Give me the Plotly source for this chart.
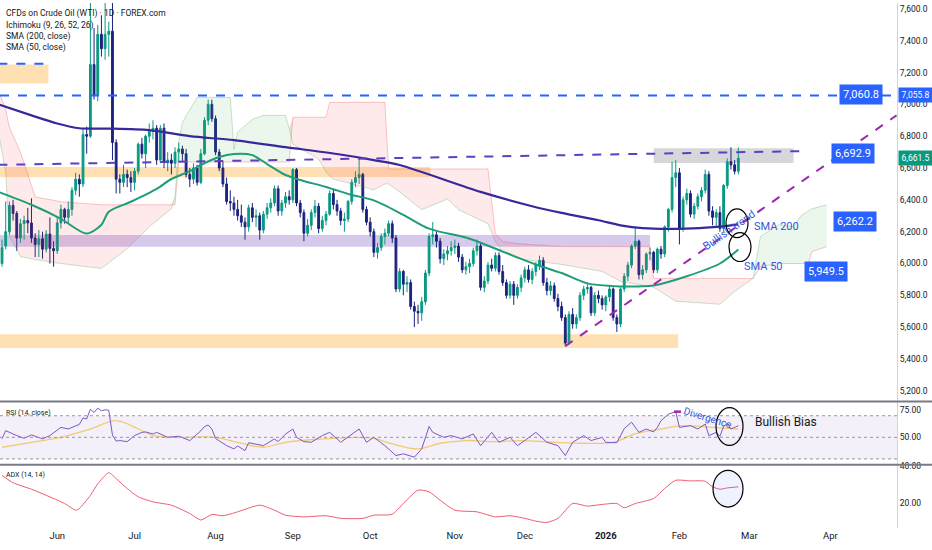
import plotly.graph_objects as go
from plotly.subplots import make_subplots
import pandas as pd

# days without a daily bar on this CFD
holidays = ["2025-05-26", "2025-07-04", "2025-09-01", "2025-11-27",
            "2025-12-25", "2026-01-01", "2026-01-19", "2026-02-16"]

# daily candles, 2025-05-09 .. 2026-02-25
opens = [6000, 6110, 6200, 6365, 6315, 6160, 6250, 6270, 6255, 6160, 6120, 6155, 6090, 6185, 6095,
         6080, 6255, 6340, 6290, 6340, 6460, 6530, 6500, 6810, 6800, 7250, 7060, 7440, 7350, 7440, 7460, 6760, 6530, 6510, 6560, 6540,
         6510, 6580, 6750, 6690, 6800, 6830, 6850, 6650, 6850, 6640, 6650, 6630, 6700, 6720, 6690, 6560, 6530, 6600, 6510, 6690, 6900, 7000,
         6910, 6700, 6600, 6500, 6390, 6380, 6340, 6300, 6260, 6230, 6350, 6290, 6300, 6210, 6310, 6350, 6380, 6470, 6330, 6380, 6420,
         6400, 6590, 6380, 6320, 6190, 6240, 6320, 6360, 6220, 6270, 6310, 6440, 6370, 6330, 6270, 6280, 6390, 6510, 6540, 6560, 6340,
         6260, 6200, 6070, 6100, 6170, 6190, 6250, 6160, 5840, 5950, 5870, 5880, 5730, 5700, 5690, 5760, 5940, 6170, 6180, 6140, 6030, 6060, 6080,
         6100, 6110, 6040, 5960, 5980, 6000, 6080, 6110, 5850, 5890, 5990, 5970, 6050, 5950, 5880, 5800, 5870, 5800, 5850,
         5910, 5960, 5900, 5950, 5990, 6020, 5880, 5830, 5860, 5780, 5730, 5660, 5500, 5680, 5620, 5660, 5800, 5840, 5850, 5690, 5800, 5780,
         5740, 5790, 5840, 5660, 5620, 5840, 5920, 5990, 6110, 6140, 5930, 5960, 6060, 6070, 5960, 6090, 6060, 6230, 6340, 6540,
         6570, 6220, 6400, 6440, 6310, 6360, 6420, 6460, 6560, 6330, 6290, 6320, 6220, 6490, 6640, 6620, 6580]
highs = [6150, 6390, 6390, 6400, 6330, 6280, 6300, 6350, 6410, 6190, 6210, 6200, 6210, 6290, 6140,
         6290, 6370, 6350, 6390, 6480, 6570, 6560, 6850, 6860, 7760, 7480, 7500, 7560, 7700, 7520, 7800, 6780, 6560, 6620, 6590, 6580,
         6600, 6760, 6790, 6810, 6880, 6900, 6870, 6870, 6880, 6700, 6690, 6730, 6760, 6740, 6720, 6600, 6630, 6620, 6720, 6920, 7030, 7030,
         6930, 6720, 6640, 6540, 6460, 6420, 6400, 6370, 6290, 6370, 6380, 6340, 6320, 6330, 6380, 6410, 6490, 6490, 6400, 6450, 6460,
         6600, 6600, 6400, 6340, 6280, 6340, 6400, 6380, 6300, 6330, 6460, 6470, 6400, 6350, 6320, 6400, 6530, 6580, 6660, 6570, 6360,
         6290, 6220, 6130, 6190, 6220, 6270, 6270, 6180, 5970, 5960, 5920, 5900, 5760, 5740, 5790, 5960, 6190, 6260, 6200, 6160, 6090, 6110, 6140,
         6150, 6130, 6060, 6010, 6030, 6100, 6150, 6130, 5920, 6010, 6030, 6070, 6070, 5990, 5900, 5890, 5890, 5870, 5930,
         5980, 5990, 5970, 6010, 6050, 6040, 5910, 5890, 5880, 5810, 5760, 5680, 5700, 5720, 5680, 5820, 5860, 5880, 5860, 5820, 5830, 5800,
         5800, 5860, 5850, 5680, 5850, 5940, 6010, 6120, 6230, 6150, 5990, 6070, 6100, 6080, 6100, 6110, 6240, 6350, 6640, 6650,
         6600, 6420, 6470, 6460, 6380, 6440, 6480, 6590, 6580, 6360, 6340, 6360, 6500, 6660, 6730, 6650, 6730]
lows = [5980, 6090, 6180, 6270, 6080, 6130, 6150, 6190, 6130, 6040, 6040, 6030, 6070, 6000, 5980,
        6060, 6220, 6250, 6250, 6300, 6430, 6420, 6480, 6690, 6790, 7030, 7020, 7300, 7280, 7300, 6650, 6440, 6440, 6480, 6480, 6450,
        6460, 6560, 6660, 6600, 6760, 6780, 6620, 6630, 6600, 6580, 6560, 6600, 6640, 6640, 6540, 6480, 6500, 6490, 6500, 6680, 6870, 6890,
        6680, 6580, 6480, 6370, 6330, 6300, 6270, 6230, 6150, 6200, 6260, 6230, 6150, 6190, 6280, 6320, 6360, 6300, 6300, 6350, 6370,
        6380, 6360, 6290, 6140, 6170, 6210, 6290, 6190, 6200, 6240, 6300, 6340, 6300, 6240, 6200, 6260, 6370, 6480, 6500, 6320, 6240,
        6170, 6040, 6030, 6080, 6120, 6170, 6130, 5820, 5820, 5800, 5820, 5710, 5600, 5620, 5640, 5740, 5920, 6120, 6100, 6000, 5990, 6020, 6050,
        6060, 6010, 5940, 5930, 5940, 5980, 6050, 5830, 5820, 5870, 5950, 5950, 5930, 5860, 5780, 5780, 5740, 5780, 5820,
        5880, 5880, 5870, 5920, 5960, 5860, 5800, 5800, 5760, 5700, 5640, 5480, 5490, 5590, 5590, 5640, 5770, 5810, 5670, 5670, 5750, 5710,
        5700, 5760, 5640, 5570, 5600, 5820, 5890, 5970, 6090, 5900, 5900, 5940, 6020, 5940, 5940, 6030, 6040, 6200, 6320, 6480,
        6120, 6200, 6370, 6290, 6280, 6340, 6390, 6440, 6300, 6240, 6230, 6200, 6200, 6470, 6590, 6560, 6560]
closes = [6100, 6200, 6365, 6315, 6160, 6250, 6270, 6255, 6160, 6120, 6155, 6090, 6185, 6095, 6080,
          6255, 6340, 6290, 6340, 6460, 6530, 6500, 6810, 6800, 7250, 7060, 7440, 7350, 7440, 7460, 6760, 6530, 6510, 6560, 6540, 6510,
          6580, 6750, 6690, 6800, 6830, 6850, 6650, 6850, 6640, 6650, 6630, 6700, 6720, 6690, 6560, 6530, 6600, 6510, 6690, 6900, 7000, 6910,
          6700, 6600, 6500, 6390, 6380, 6340, 6300, 6260, 6230, 6350, 6290, 6300, 6210, 6310, 6350, 6380, 6470, 6330, 6380, 6420, 6400,
          6590, 6380, 6320, 6190, 6240, 6320, 6360, 6220, 6270, 6310, 6440, 6370, 6330, 6270, 6280, 6390, 6510, 6540, 6560, 6340, 6260,
          6200, 6070, 6100, 6170, 6190, 6250, 6160, 5840, 5950, 5870, 5880, 5730, 5700, 5690, 5760, 5940, 6170, 6180, 6140, 6030, 6060, 6080, 6100,
          6110, 6040, 5960, 5980, 6000, 6080, 6110, 5850, 5890, 5990, 5970, 6050, 5950, 5880, 5800, 5870, 5800, 5850, 5910,
          5960, 5900, 5950, 5990, 6020, 5880, 5830, 5860, 5780, 5730, 5660, 5500, 5680, 5620, 5660, 5800, 5840, 5850, 5690, 5800, 5780, 5740,
          5790, 5840, 5660, 5620, 5840, 5920, 5990, 6110, 6140, 5930, 5960, 6060, 6070, 5960, 6090, 6060, 6230, 6340, 6540, 6570,
          6220, 6400, 6440, 6310, 6360, 6420, 6460, 6560, 6330, 6290, 6320, 6220, 6490, 6640, 6620, 6580, 6661.5]

# SMA 200 / SMA 50
sma200_dates = ["2025-05-08", "2025-05-21", "2025-06-02", "2025-06-10", "2025-06-20", "2025-07-08", "2025-07-23",
                "2025-08-08", "2025-08-28", "2025-09-18", "2025-10-02", "2025-10-13", "2025-11-12", "2025-12-03",
                "2025-12-15", "2025-12-30", "2026-01-08", "2026-01-16", "2026-02-02", "2026-02-18", "2026-02-25"]
sma200_vals = [7000, 6931, 6880, 6850, 6848, 6838, 6800, 6775, 6731, 6688, 6650, 6619, 6450, 6360,
               6318, 6272, 6240, 6222, 6218, 6232, 6246]
sma50_dates = ["2025-05-08", "2025-05-21", "2025-06-03", "2025-06-12", "2025-06-18", "2025-06-20", "2025-06-30",
               "2025-07-10", "2025-07-16", "2025-07-23", "2025-07-28", "2025-08-04", "2025-08-08", "2025-08-15",
               "2025-08-21", "2025-08-28", "2025-09-04", "2025-09-15", "2025-09-24", "2025-10-02", "2025-10-14",
               "2025-10-23", "2025-11-07", "2025-11-20", "2025-12-04", "2025-12-15", "2025-12-24", "2026-01-08",
               "2026-01-15", "2026-01-22", "2026-02-04", "2026-02-18", "2026-02-25"]
sma50_vals = [6450, 6369, 6281, 6188, 6244, 6325, 6388, 6469, 6531, 6580, 6619, 6669, 6688, 6681,
              6625, 6556, 6525, 6481, 6431, 6397, 6306, 6219, 6156, 6075, 5994, 5940, 5875, 5856,
              5856, 5862, 5920, 6000, 6088]

# Ichimoku leading spans (already shifted 26 bars forward)
cloud_dates = ["2025-05-08", "2025-05-12", "2025-05-13", "2025-05-16", "2025-05-22", "2025-06-03", "2025-06-18",
               "2025-06-27", "2025-07-08", "2025-07-16", "2025-07-17", "2025-07-18", "2025-07-21", "2025-07-25",
               "2025-08-07", "2025-08-08", "2025-08-11", "2025-08-15", "2025-08-20", "2025-08-28", "2025-08-29",
               "2025-09-02", "2025-09-11", "2025-09-15", "2025-09-16", "2025-09-17", "2025-10-02", "2025-10-07",
               "2025-10-08", "2025-10-13", "2025-10-21", "2025-10-30", "2025-11-04", "2025-11-14", "2025-11-18",
               "2025-11-20", "2025-11-26", "2025-12-15", "2025-12-31", "2026-01-08", "2026-01-21", "2026-01-22",
               "2026-01-30", "2026-02-18", "2026-02-24", "2026-03-02", "2026-03-03", "2026-03-05", "2026-03-12",
               "2026-03-18", "2026-03-20", "2026-03-24", "2026-03-25", "2026-03-31"]
span_a = [6825, 6575, 6169, 6044, 6025, 6000, 5969, 6094, 6231, 6344, 6420, 6763, 6888, 7044,
          7044, 6719, 6825, 6906, 6931, 6931, 6850, 6750, 6656, 6575, 6550, 6531, 6463, 6500,
          6500, 6450, 6338, 6406, 6338, 6250, 6138, 6075, 6031, 5994, 5950, 5888, 5856, 5850,
          5763, 5744, 5825, 5888, 5906, 6169, 6244, 6231, 6300, 6330, 6344, 6369]
span_b = [7088, 6969, 6856, 6700, 6419, 6388, 6369, 6369, 6369, 6369, 6369, 6638, 6638, 6638,
          6638, 6638, 6638, 6638, 6638, 6638, 6638, 6919, 6919, 6919, 7013, 7013, 7013, 7013,
          6594, 6594, 6594, 6594, 6594, 6594, 6188, 6138, 6125, 6106, 6106, 6106, 6106, 5906,
          5906, 5906, 5906, 5906, 5906, 5981, 6000, 6000, 6000, 6000, 6075, 6106]

# RSI (14) and its moving average
rsi_dates = ["2025-05-09", "2025-05-12", "2025-05-15", "2025-05-19", "2025-05-21", "2025-05-27", "2025-05-29",
             "2025-06-03", "2025-06-05", "2025-06-09", "2025-06-10", "2025-06-11", "2025-06-12", "2025-06-13",
             "2025-06-16", "2025-06-17", "2025-06-18", "2025-06-19", "2025-06-20", "2025-06-23", "2025-06-24",
             "2025-06-25", "2025-06-27", "2025-07-01", "2025-07-03", "2025-07-07", "2025-07-09", "2025-07-10",
             "2025-07-15", "2025-07-18", "2025-07-23", "2025-07-28", "2025-07-29", "2025-07-30", "2025-07-31",
             "2025-08-01", "2025-08-06", "2025-08-08", "2025-08-11", "2025-08-13", "2025-08-14", "2025-08-20",
             "2025-08-25", "2025-08-26", "2025-08-28", "2025-09-02", "2025-09-03", "2025-09-05", "2025-09-09",
             "2025-09-12", "2025-09-16", "2025-09-19", "2025-09-24", "2025-09-26", "2025-09-30", "2025-10-02",
             "2025-10-07", "2025-10-10", "2025-10-14", "2025-10-17", "2025-10-21", "2025-10-23", "2025-10-24",
             "2025-10-29", "2025-10-31", "2025-11-05", "2025-11-10", "2025-11-12", "2025-11-17", "2025-11-19",
             "2025-11-24", "2025-11-26", "2025-12-01", "2025-12-04", "2025-12-09", "2025-12-12", "2025-12-16",
             "2025-12-18", "2025-12-23", "2025-12-26", "2025-12-31", "2026-01-02", "2026-01-07", "2026-01-09",
             "2026-01-13", "2026-01-15", "2026-01-20", "2026-01-22", "2026-01-23", "2026-01-26", "2026-01-28",
             "2026-01-30", "2026-02-02", "2026-02-05", "2026-02-09", "2026-02-11", "2026-02-12", "2026-02-17",
             "2026-02-18", "2026-02-19", "2026-02-20", "2026-02-23", "2026-02-25"]
rsi_vals = [48.5, 56.2, 51.6, 49.1, 52.2, 48.5, 51.6,
            59.2, 57.7, 60.8, 62, 68, 67, 76, 73, 77, 74.6, 75.5, 75, 52, 46.5, 47, 46,
            51.6, 54.6, 55, 53.1, 54.6, 50, 51, 47, 56, 60, 61.4, 57.7,
            49, 42.3, 39.3, 42, 37.7, 45, 42.3, 48.5, 46, 53,
            57.7, 50, 46, 45.4, 51.6, 54.6, 45.4, 53.1, 57.7, 45.4,
            50, 42.3, 33.1, 34.7, 31.6, 39.3, 60, 54.6, 50, 51.6,
            48.5, 53.1, 42.3, 54.6, 45.4, 50, 42.3,
            47, 54.6, 45.4, 42.3, 33.1, 45.4, 51.6, 47, 50,
            45.4, 45, 58, 64, 54.6, 57.7, 55, 59.2, 65.4, 71.5, 73.7,
            59.2, 60.8, 57.7, 62.3, 51.6, 54.6, 51, 60, 63, 57.7, 60.8]
rsi_ma_dates = ["2025-05-09", "2025-05-21", "2025-06-03", "2025-06-13", "2025-06-24", "2025-07-02", "2025-07-09",
                "2025-07-18", "2025-08-01", "2025-08-11", "2025-08-20", "2025-08-28", "2025-09-12", "2025-09-25",
                "2025-10-02", "2025-10-09", "2025-10-20", "2025-10-28", "2025-11-06", "2025-11-18", "2025-11-28",
                "2025-12-11", "2025-12-23", "2026-01-06", "2026-01-14", "2026-01-26", "2026-02-03", "2026-02-13",
                "2026-02-25"]
rsi_ma_vals = [40.8, 45.4, 50, 57.7, 65.4, 57.7, 51.6, 50, 50, 45.4, 40.8, 45.4, 48.5, 50,
               49, 43.9, 39.3, 44.5, 47, 46, 47, 45.4, 44.5, 45.4, 53.1, 57.7, 60.8, 59.2, 57.7]

# ADX (14, 14)
adx_dates = ["2025-05-09", "2025-05-14", "2025-05-21", "2025-05-28", "2025-06-04", "2025-06-09", "2025-06-10",
             "2025-06-13", "2025-06-17", "2025-06-20", "2025-06-24", "2025-06-27", "2025-07-02", "2025-07-09",
             "2025-07-16", "2025-07-23", "2025-07-28", "2025-07-31", "2025-08-05", "2025-08-11", "2025-08-19",
             "2025-08-25", "2025-08-28", "2025-09-05", "2025-09-15", "2025-09-19", "2025-09-29", "2025-10-02",
             "2025-10-09", "2025-10-14", "2025-10-20", "2025-10-23", "2025-10-28", "2025-11-03", "2025-11-11",
             "2025-11-18", "2025-11-24", "2025-12-01", "2025-12-04", "2025-12-09", "2025-12-12", "2025-12-18",
             "2025-12-24", "2025-12-31", "2026-01-07", "2026-01-09", "2026-01-14", "2026-01-22", "2026-01-27",
             "2026-01-30", "2026-02-05", "2026-02-11", "2026-02-13", "2026-02-18", "2026-02-20", "2026-02-25"]
adx_vals = [35.2, 31.2, 27.7, 24.4, 20, 16.4, 17.3, 24.4, 30.6, 36.6, 33.4, 28.1,
            23.6, 20.9, 19.1, 14.6, 11.1, 14.1, 13.4, 15.5, 19.1, 16.4, 13.7,
            12.8, 13.4, 12, 12, 13.7, 14.2, 20, 27.2, 26.3, 21.8,
            16.4, 15.5, 12.8, 13.4, 12, 10.5, 9.8, 12, 20, 18.6, 19.5,
            20, 17.7, 20, 22.7, 28.1, 32.5, 32.2, 32, 29, 27.7, 28.4, 29]

# drawn zones: orange top-left, orange mid, purple, orange bottom, grey box
zone_x0 = ["2025-05-08", "2025-05-08", "2025-05-08", "2025-05-08", "2026-01-22"]
zone_x1 = ["2025-05-28 14:00", "2025-10-23 08:00", "2026-01-21", "2026-01-30 16:00", "2026-03-18"]
zone_lo = [7131, 6544, 6106, 5469, 6631]
zone_hi = [7250, 6606, 6179, 5556, 6725]

resistance = 7055.8
top_left_level = 7256
flat_line = (["2025-05-08", "2026-03-20"], [6620, 6706])
trend_line = (["2025-12-16", "2026-04-27"], [5481, 6931])

price_labels = ["7,060.8", "6,692.9", "6,262.2", "5,949.5"]
price_label_vals = [7060.8, 6692.9, 6262.2, 5949.5]
last_close = 6661.5

price_ticks = [5200, 5400, 5600, 5800, 6000, 6200, 6400, 6600, 6800, 7000, 7200, 7400, 7600]
month_ticks = ["2025-06-02", "2025-07-01", "2025-08-01", "2025-09-02", "2025-10-01", "2025-11-03",
               "2025-12-01", "2026-01-02", "2026-02-02", "2026-03-02", "2026-04-01"]
month_labels = ["Jun", "Jul", "Aug", "Sep", "Oct", "Nov", "Dec", "<b>2026</b>", "Feb", "Mar", "Apr"]

dates = pd.bdate_range("2025-05-09", "2026-02-25", freq="C", holidays=holidays)

FONT = "Liberation Sans Narrow, Roboto, Arial, sans-serif"
UP, DOWN = "#089981", "#1a237e"
BLUE = "#2962ff"
NOTE = "#3557d8"

PLOT_W, PLOT_H = 897, 528


def px(x):
    return x / PLOT_W


def py(y):
    return 1 - y / PLOT_H


def note(text, x, y, size=11, color=NOTE, anchor="center", angle=0, **kw):
    return dict(text=text, xref="paper", yref="paper", x=px(x), y=py(y), xanchor=anchor,
                yanchor="middle", textangle=angle, showarrow=False,
                font=dict(size=size, color=color, family=FONT), **kw)


fig = make_subplots(rows=3, cols=1, shared_xaxes=True, vertical_spacing=0,
                    row_heights=[0.759, 0.1205, 0.1205])

# cloud: red where span B is on top, green where span A is on top
cloud_top = [max(a, b) for a, b in zip(span_a, span_b)]
fig.add_trace(go.Scatter(x=cloud_dates, y=span_a, mode="lines",
                         line=dict(color="rgba(67,160,71,0.35)", width=0.8)), row=1, col=1)
fig.add_trace(go.Scatter(x=cloud_dates, y=cloud_top, mode="lines", line=dict(width=0),
                         fill="tonexty", fillcolor="rgba(242,54,69,0.11)"), row=1, col=1)
fig.add_trace(go.Scatter(x=cloud_dates, y=span_b, mode="lines",
                         line=dict(color="rgba(242,54,69,0.35)", width=0.8)), row=1, col=1)
fig.add_trace(go.Scatter(x=cloud_dates, y=cloud_top, mode="lines", line=dict(width=0),
                         fill="tonexty", fillcolor="rgba(76,175,80,0.11)"), row=1, col=1)

fig.add_trace(go.Candlestick(x=dates, open=opens, high=highs, low=lows, close=closes,
                             increasing=dict(line=dict(color=UP, width=1), fillcolor=UP),
                             decreasing=dict(line=dict(color=DOWN, width=1), fillcolor=DOWN)),
              row=1, col=1)

fig.add_trace(go.Scatter(x=sma50_dates, y=sma50_vals, mode="lines",
                         line=dict(color="#1e9e78", width=2, shape="spline", smoothing=0.8)), row=1, col=1)
fig.add_trace(go.Scatter(x=sma200_dates, y=sma200_vals, mode="lines",
                         line=dict(color="#37299a", width=2.2, shape="spline", smoothing=0.8)), row=1, col=1)

fig.add_trace(go.Scatter(x=rsi_ma_dates, y=rsi_ma_vals, mode="lines",
                         line=dict(color="rgba(242,190,70,0.75)", width=1.3, shape="spline")), row=2, col=1)
fig.add_trace(go.Scatter(x=rsi_dates, y=rsi_vals, mode="lines",
                         line=dict(color="#7e57c2", width=1)), row=2, col=1)

fig.add_trace(go.Scatter(x=adx_dates, y=adx_vals, mode="lines",
                         line=dict(color="#ef5b6e", width=1, shape="spline", smoothing=0.6)), row=3, col=1)

shapes = []
zone_fill = ["rgba(255,167,38,0.35)", "rgba(255,167,38,0.35)", "rgba(126,87,194,0.32)",
             "rgba(255,167,38,0.35)", "rgba(120,123,134,0.3)"]
for x0, x1, lo, hi, fc in zip(zone_x0, zone_x1, zone_lo, zone_hi, zone_fill):
    shapes.append(dict(type="rect", xref="x", yref="y", x0=x0, x1=x1, y0=lo, y1=hi,
                       fillcolor=fc, line=dict(width=0), layer="below"))

shapes.append(dict(type="line", xref="x", yref="y", x0=zone_x0[0], x1=zone_x1[0],
                   y0=top_left_level, y1=top_left_level, line=dict(color=BLUE, width=2, dash="dash")))
shapes.append(dict(type="line", xref="paper", yref="y", x0=0, x1=1, y0=resistance, y1=resistance,
                   line=dict(color=BLUE, width=2, dash="dash")))
shapes.append(dict(type="line", xref="x", yref="y", x0=flat_line[0][0], x1=flat_line[0][1],
                   y0=flat_line[1][0], y1=flat_line[1][1], line=dict(color="#5e3fc0", width=2, dash="dash")))
shapes.append(dict(type="line", xref="x", yref="y", x0=trend_line[0][0], x1=trend_line[0][1],
                   y0=trend_line[1][0], y1=trend_line[1][1], line=dict(color="#9c27b0", width=2, dash="dash")))

# RSI band and guide lines
shapes.append(dict(type="rect", xref="paper", yref="y2", x0=0, x1=1, y0=30, y1=70,
                   fillcolor="rgba(126,87,194,0.09)", line=dict(width=0), layer="below"))
for lvl in (70, 50, 30):
    shapes.append(dict(type="line", xref="paper", yref="y2", x0=0, x1=1, y0=lvl, y1=lvl,
                       line=dict(color="#9598a1", width=1, dash="dot")))

# pane separators
for yy in (400.7, 464.3):
    shapes.append(dict(type="line", xref="paper", yref="paper", x0=0, x1=932 / PLOT_W,
                       y0=py(yy), y1=py(yy), line=dict(color="#787b86", width=2)))

# hand-drawn circles
for x0, x1, y0, y1, fc in [(726, 748, 207, 236, "rgba(0,0,0,0)"),
                           (729, 751, 231, 260, "rgba(0,0,0,0)"),
                           (716, 743, 407, 445, "rgba(0,0,0,0)"),
                           (713, 743, 470, 507, "rgba(41,98,255,0.08)")]:
    shapes.append(dict(type="circle", xref="paper", yref="paper", x0=px(x0), x1=px(x1),
                       y0=py(y1), y1=py(y0), fillcolor=fc, line=dict(color="#000000", width=1.2)))

shapes.append(dict(type="line", xref="paper", yref="paper", x0=px(674), x1=px(681),
                   y0=py(411), y1=py(411), line=dict(color="#9c27b0", width=2.5)))

ann = []
header = ["CFDs on Crude Oil (WTI) · 1D · FOREX.com", "Ichimoku (9, 26, 52, 26)",
          "SMA (200, close)", "SMA (50, close)"]
for i, t in enumerate(header):
    ann.append(note(t, 4, 11 + 11.2 * i, size=8.5, color="#131722", anchor="left"))
ann.append(note("RSI (14, close)", 4, 412, size=7, color="#131722", anchor="left"))
ann.append(note("ADX (14, 14)", 4, 475, size=7, color="#131722", anchor="left"))

for t, v, xc in zip(price_labels, price_label_vals, [861, 853, 855, 826]):
    ann.append(dict(text=t, xref="paper", yref="y", x=px(xc), y=v, xanchor="center",
                    yanchor="middle", showarrow=False, bgcolor=BLUE, borderpad=3,
                    font=dict(size=11, color="white", family=FONT)))

for v, col in ((resistance, BLUE), (last_close, UP)):
    ann.append(dict(text=f"{v:,.1f}", xref="paper", yref="y", x=1.0, y=v, xanchor="left",
                    yanchor="middle", xshift=1, showarrow=False, bgcolor=col, borderpad=2,
                    width=29, font=dict(size=8.5, color="white", family=FONT)))

ann.append(note("SMA 200", 752, 225, anchor="left"))
ann.append(note("SMA 50", 742, 265, anchor="left"))
ann.append(note("Bullish trend", 729, 229, angle=-35))
ann.append(note("Divergence", 707, 417, size=10, angle=17))
ann.append(note("Bullish Bias", 786, 421, size=12, color="#131722"))

fig.update_layout(width=932, height=550, margin=dict(l=0, r=35, t=0, b=22),
                  paper_bgcolor="white", plot_bgcolor="white", showlegend=False,
                  font=dict(family=FONT, size=10, color="#131722"),
                  shapes=shapes, annotations=ann, hovermode=False)

x_range = ["2025-05-08 10:48", "2026-04-27 02:24"]
fig.update_xaxes(rangebreaks=[dict(bounds=["sat", "mon"]), dict(values=holidays)],
                 range=x_range, showgrid=False, zeroline=False, showline=False, ticks="",
                 rangeslider_visible=False)
fig.update_xaxes(tickvals=month_ticks, ticktext=month_labels,
                 tickfont=dict(size=9.5, color="#131722", family=FONT), row=3, col=1)

fig.update_yaxes(side="right", showgrid=False, zeroline=False, showline=True,
                 linecolor="#d1d4dc", linewidth=1, ticks="",
                 tickfont=dict(size=8.5, color="#131722", family=FONT))
fig.update_yaxes(range=[5133, 7637], tickvals=price_ticks, tickformat=",.1f", row=1, col=1)
fig.update_yaxes(range=[24.6, 83.2], tickvals=[50, 75], tickformat=".2f", row=2, col=1)
fig.update_yaxes(range=[6.8, 40.9], tickvals=[20, 40], tickformat=".2f", row=3, col=1)

# the page body has a default 8px margin; drop it so the chart sits at the window corner
fig.write_html("out.html", config={"displayModeBar": False},
               post_script="document.body.style.margin='0px';")
